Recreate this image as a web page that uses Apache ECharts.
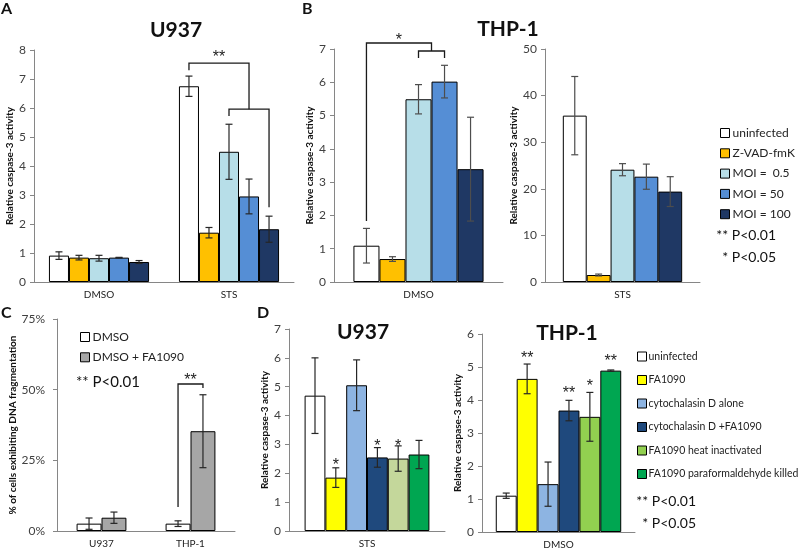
<!DOCTYPE html>
<html><head><meta charset="utf-8">
<script src="https://cdn.jsdelivr.net/npm/echarts@6/dist/echarts.min.js"></script>
<style>html,body{margin:0;padding:0;background:#fff}#c{width:800px;height:551px}</style>
</head><body><div id="c"></div>
<script>
// ---------- data ----------
const abNames = ['uninfected', 'Z-VAD-fmK', 'MOI =  0.5', 'MOI = 50', 'MOI = 100'];
const abColors = ['#FFFFFF', '#FFC000', '#B7DEE8', '#558ED5', '#1F3864'];

const aCats = ['DMSO', 'STS'];
const aMeans = [[0.91, 6.75], [0.84, 1.70], [0.82, 4.49], [0.84, 2.95], [0.69, 1.82]];
const aErrs  = [[0.13, 0.35], [0.08, 0.18], [0.10, 0.95], [0.01, 0.60], [0.05, 0.45]];

const bLeftCats = ['DMSO'];
const bLeftMeans = [1.09, 0.69, 5.49, 6.02, 3.39];
const bLeftErrs  = [0.52, 0.07, 0.44, 0.49, 1.56];

const bRightCats = ['STS'];
const bRightMeans = [35.7, 1.5, 24.1, 22.6, 19.4];
const bRightErrs  = [8.4, 0.2, 1.3, 2.7, 3.2];

const cNames = ['DMSO', 'DMSO + FA1090'];
const cColors = ['#FFFFFF', '#A6A6A6'];
const cCats = ['U937', 'THP-1'];
const cMeans = [[2.6, 2.6], [4.7, 35.3]];
const cErrs  = [[2.0, 1.0], [2.0, 12.9]];

const dNames = ['uninfected', 'FA1090', 'cytochalasin D alone', 'cytochalasin D +FA1090', 'FA1090 heat inactivated', 'FA1090 paraformaldehyde killed'];
const dLeftColors  = ['#FFFFFF', '#FFFF00', '#8DB4E2', '#1F497D', '#C4D79B', '#00A651'];
const dRightColors = ['#FFFFFF', '#FFFF00', '#8DB4E2', '#1F497D', '#92D050', '#00A651'];
const dLeftCats = ['STS'];
const dLeftMeans = [4.69, 1.85, 5.05, 2.55, 2.51, 2.65];
const dLeftErrs  = [1.31, 0.34, 0.88, 0.34, 0.44, 0.49];
const dRightCats = ['DMSO'];
const dRightMeans = [1.10, 4.64, 1.45, 3.68, 3.49, 4.89];
const dRightErrs  = [0.08, 0.45, 0.67, 0.31, 0.74, 0.02];

// significance annotations: points are [category, bar position, value]
const aBrackets = [
  [[1, 0, 7.30], [1, 0, 7.55], [1, 3, 7.55], [1, 3, 5.96]],
  [[1, 2, 5.72], [1, 2, 5.96], [1, 4, 5.96], [1, 4, 2.58]]
];
const aStars = [[1, 1.5, 7.86, '**']];
const bBrackets = [
  [[0, 0, 1.83], [0, 0, 7.18], [0, 2.5, 7.18], [0, 2.5, 6.94]],
  [[0, 2, 6.73], [0, 2, 6.94], [0, 3, 6.94], [0, 3, 6.73]]
];
const bStars = [[0, 1.25, 7.36, '*']];
const cBrackets = [[[1, 0, 8.5], [1, 0, 52.0], [1, 1, 52.0], [1, 1, 50.6]]];
const cStars = [[1, 0.5, 54.8, '**']];
const dLeftStars = [[0, 1, 2.39, '*'], [0, 3, 3.08, '*'], [0, 4, 3.08, '*']];
const dRightStars = [[0, 1, 5.39, '**'], [0, 3, 4.33, '**'], [0, 4, 4.54, '*'], [0, 5, 5.30, '**']];

// ---------- chart ----------
const FONT = 'Lato, "Liberation Sans", sans-serif';
const STARFONT = '"Liberation Sans", Arial, sans-serif';
const AXC = '#868686';
const chart = echarts.init(document.getElementById('c'), null, {renderer: 'canvas'});

const grids = [
  {left: 34, top: 50, width: 260, height: 232},   // A
  {left: 334, top: 49, width: 169, height: 233},  // B left
  {left: 545, top: 49, width: 155, height: 233},  // B right
  {left: 57, top: 319, width: 178, height: 212},  // C
  {left: 289, top: 329, width: 156, height: 202}, // D left
  {left: 482, top: 334, width: 153, height: 198}  // D right
].map(g => Object.assign({outerBoundsMode: 'none', containLabel: false}, g));

const gaps = [0.23, 0.23, 0.23, 0.44, 0.20, 0.18];

function xAx(gi, cats) {
  return {type: 'category', gridIndex: gi, data: cats,
    axisLine: {lineStyle: {color: AXC}}, axisTick: {lineStyle: {color: AXC}, length: 4},
    axisLabel: {color: '#222', fontSize: 10, margin: 8, fontFamily: FONT}, splitLine: {show: false}};
}
function yAx(gi, max, interval, name, nameGap, margin, fmt) {
  return {type: 'value', gridIndex: gi, min: 0, max: max, interval: interval,
    name: name, nameLocation: 'middle', nameGap: nameGap,
    nameTextStyle: {fontWeight: 'bold', fontSize: 10, color: '#111', fontFamily: FONT},
    axisLine: {show: true, lineStyle: {color: AXC}}, axisTick: {show: true, length: 4, lineStyle: {color: AXC}},
    axisLabel: {color: '#404040', fontSize: 12, margin: margin, fontFamily: FONT, formatter: fmt || '{value}'},
    splitLine: {show: false}};
}

const YN = 'Relative caspase-3 activity';
const xAxes = [xAx(0, aCats), xAx(1, bLeftCats), xAx(2, bRightCats), xAx(3, cCats), xAx(4, dLeftCats), xAx(5, dRightCats)];
const yAxes = [
  yAx(0, 8, 1, YN, 18, 8),
  yAx(1, 7, 1, YN, 18, 8),
  yAx(2, 50, 10, YN, 24, 8),
  yAx(3, 75, 25, '% of cells exhibiting DNA fragmentation', 30, 12, '{value}%'),
  yAx(4, 7, 1, YN, 18, 8),
  yAx(5, 6, 1, YN, 18, 8)
];

const series = [];
function bars(gi, names, colors, dataPerSeries) {
  names.forEach((n, i) => {
    series.push({type: 'bar', name: n, xAxisIndex: gi, yAxisIndex: gi, data: dataPerSeries[i],
      barGap: '0%', barCategoryGap: (gaps[gi] * 100) + '%',
      itemStyle: {color: colors[i], borderColor: '#000', borderWidth: 1}, silent: true, animation: false});
  });
}
function barX(api, gi, n, cat, pos) {
  const band = api.size([1, 0])[0];
  const grp = band * (1 - gaps[gi]);
  const bw = grp / n;
  return api.coord([cat, 0])[0] - grp / 2 + (pos + 0.5) * bw;
}
function errors(gi, n, means, errs, color) {
  const data = [];
  means.forEach((row, k) => row.forEach((m, c) => data.push([c, k, m, errs[k][c]])));
  series.push({type: 'custom', xAxisIndex: gi, yAxisIndex: gi, data: data, encode: {x: 0, y: 2},
    silent: true, animation: false, z: 5,
    renderItem(params, api) {
      const c = api.value(0), k = api.value(1), m = api.value(2), e = api.value(3);
      const x = barX(api, gi, n, c, k);
      const yt = api.coord([c, m + e])[1], yb = api.coord([c, m - e])[1];
      const st = {stroke: color, lineWidth: 1.2};
      return {type: 'group', children: [
        {type: 'line', shape: {x1: x, y1: yt, x2: x, y2: yb}, style: st},
        {type: 'line', shape: {x1: x - 3.5, y1: yt, x2: x + 3.5, y2: yt}, style: st},
        {type: 'line', shape: {x1: x - 3.5, y1: yb, x2: x + 3.5, y2: yb}, style: st}
      ]};
    }});
}
function brackets(gi, n, list) {
  series.push({type: 'custom', xAxisIndex: gi, yAxisIndex: gi, data: list.map(b => [b[0][0], b[0][2]]),
    silent: true, animation: false, z: 6,
    renderItem(params, api) {
      const b = list[params.dataIndex];
      const pts = b.map(p => [barX(api, gi, n, p[0], p[1]), api.coord([p[0], p[2]])[1]]);
      return {type: 'polyline', shape: {points: pts}, style: {stroke: '#1a1a1a', lineWidth: 1.3, fill: null}};
    }});
}
function stars(gi, n, list) {
  series.push({type: 'custom', xAxisIndex: gi, yAxisIndex: gi, data: list.map(s => [s[0], s[2]]),
    silent: true, animation: false, z: 6,
    renderItem(params, api) {
      const s = list[params.dataIndex];
      const x = barX(api, gi, n, s[0], s[1]);
      const y = api.coord([s[0], s[2]])[1];
      return {type: 'text', x: x, y: y + 4, style: {text: s[3], fill: '#222', font: '16px ' + STARFONT,
        align: 'center', verticalAlign: 'middle'}};
    }});
}

// A
bars(0, abNames, abColors, aMeans);
errors(0, 5, aMeans, aErrs, '#262626');
brackets(0, 5, aBrackets); stars(0, 5, aStars);
// B left
bars(1, abNames, abColors, bLeftMeans.map(v => [v]));
errors(1, 5, bLeftMeans.map(v => [v]), bLeftErrs.map(v => [v]), '#4d4d4d');
brackets(1, 5, bBrackets); stars(1, 5, bStars);
// B right
bars(2, abNames, abColors, bRightMeans.map(v => [v]));
errors(2, 5, bRightMeans.map(v => [v]), bRightErrs.map(v => [v]), '#4d4d4d');
// C
bars(3, cNames, cColors, cMeans);
errors(3, 2, cMeans, cErrs, '#262626');
brackets(3, 2, cBrackets); stars(3, 2, cStars);
// D left
bars(4, dNames, dLeftColors, dLeftMeans.map(v => [v]));
errors(4, 6, dLeftMeans.map(v => [v]), dLeftErrs.map(v => [v]), '#262626');
stars(4, 6, dLeftStars);
// D right
bars(5, dNames, dRightColors, dRightMeans.map(v => [v]));
errors(5, 6, dRightMeans.map(v => [v]), dRightErrs.map(v => [v]), '#262626');
stars(5, 6, dRightStars);

const legStyle = {orient: 'vertical', icon: 'rect', itemWidth: 9, itemHeight: 9, selectedMode: false,
  textStyle: {fontSize: 12, color: '#222', fontFamily: FONT, padding: [0, 0, 0, -2]},
  itemStyle: {borderColor: '#000', borderWidth: 1}};
const legends = [
  Object.assign({}, legStyle, {left: 715, top: 122, itemGap: 8.3,
    data: abNames.map((n, i) => ({name: n, itemStyle: {color: abColors[i]}}))}),
  Object.assign({}, legStyle, {left: 75, top: 326, itemGap: 8.3,
    data: cNames.map((n, i) => ({name: n, itemStyle: {color: cColors[i]}}))}),
  Object.assign({}, legStyle, {left: 632, top: 346, itemGap: 12.5,
    textStyle: {fontSize: 10.5, color: '#222', fontFamily: FONT, padding: [0, 0, 0, -3]},
    data: dNames.map((n, i) => ({name: n, itemStyle: {color: dRightColors[i]}}))})
];

function txt(x, y, t, size, weight, align) {
  return {type: 'text', x: x, y: y, silent: true,
    style: {text: t, font: (weight || 'normal') + ' ' + size + 'px ' + FONT, fill: '#111',
      align: align || 'center', verticalAlign: 'middle'}};
}

chart.setOption({
  backgroundColor: '#fff',
  animation: false,
  grid: grids, xAxis: xAxes, yAxis: yAxes, series: series, legend: legends,
  graphic: [
    txt(1, 9, 'A', 16, 'bold', 'left'),
    txt(302, 9, 'B', 16, 'bold', 'left'),
    txt(1, 313, 'C', 16, 'bold', 'left'),
    txt(257, 313, 'D', 16, 'bold', 'left'),
    txt(176, 30, 'U937', 21, 'bold'),
    txt(508, 29, 'THP-1', 21, 'bold'),
    txt(363, 332, 'U937', 21, 'bold'),
    txt(567, 333, 'THP-1', 21, 'bold'),
    txt(776, 235, '** P<0.01', 14, 'normal', 'right'),
    txt(776, 257, '* P<0.05', 14, 'normal', 'right'),
    txt(76, 382, '** P<0.01', 15, 'normal', 'left'),
    txt(696, 501, '** P<0.01', 14, 'normal', 'right'),
    txt(696, 523, '* P<0.05', 14, 'normal', 'right')
  ]
});
</script>
</body></html>
